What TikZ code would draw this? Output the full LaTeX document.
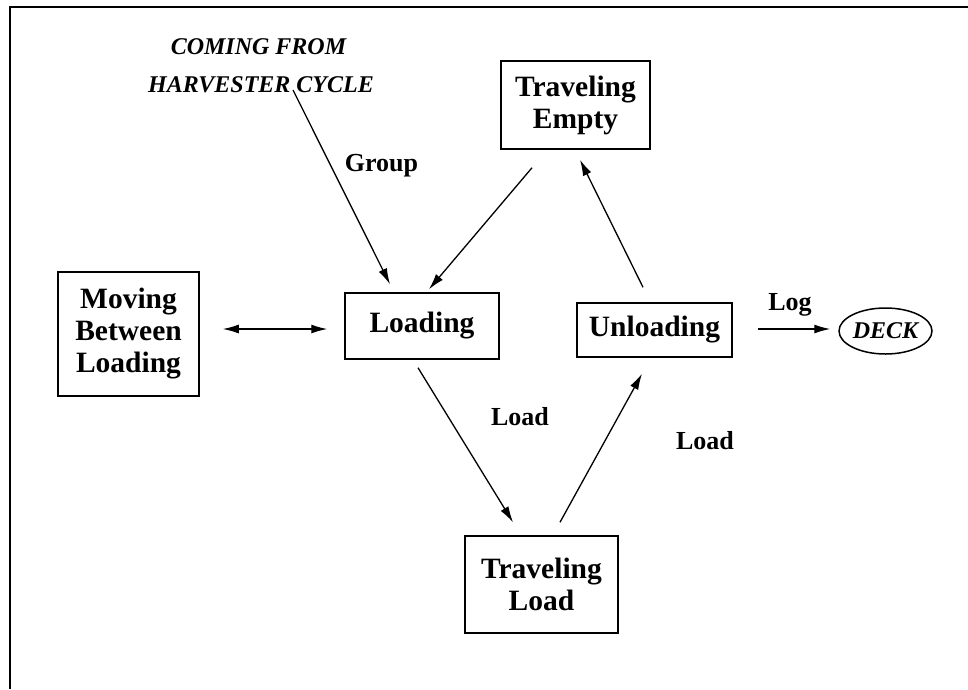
\documentclass[tikz,border=0pt]{standalone}
\usepackage{fontspec}
\setmainfont{Liberation Serif}
\usetikzlibrary{arrows.meta,shapes.geometric}

\tikzset{
  state/.style={draw, line width=1.5pt, inner sep=0pt, align=center,
    font=\bfseries\fontsize{29.5}{32}\selectfont},
  lbl/.style={anchor=base, inner sep=0pt, font=\bfseries\fontsize{26}{30}\selectfont},
  src/.style={anchor=base, inner sep=0pt, font=\bfseries\itshape\fontsize{24}{28}\selectfont},
  arr/.style={line width=1.3pt, -{Latex[length=16pt,width=9pt]}},
}

\begin{document}
\begin{tikzpicture}[x=1pt, y=-1pt]
\useasboundingbox (0,0) rectangle (968,689);

% --- Marco ---
\draw[line width=1.8pt] (10,689) -- (10,7) -- (968,7);

% --- Origen del ciclo ---
\node[src] (coming) at (258.5,54) {COMING FROM};
\node[src] (harv) at (261,92) {HARVESTER CYCLE};

% --- Estados ---
\node[state, minimum width=141pt, minimum height=124pt] (mov) at (128.5,334) {Moving\\Between\\Loading};
\node[state, minimum width=154pt, minimum height=66pt] (loading) at (422,326) {Loading};
\node[state, minimum width=149pt, minimum height=88pt] (tempty) at (575.5,105) {Traveling\\Empty};
\node[state, minimum width=155pt, minimum height=54pt] (unload) at (654.5,330) {Unloading};
\node[state, minimum width=153pt, minimum height=97pt] (tload) at (541.5,584.5) {Traveling\\Load};
\node[draw, ellipse, line width=1.5pt, inner sep=0pt, minimum width=93pt, minimum height=46pt,
      font=\bfseries\itshape\fontsize{24}{28}\selectfont] (deck) at (885.5,331) {DECK};

% --- Etiquetas ---
\node[lbl] (group) at (381.5,171) {Group};
\node[lbl] (load1) at (520,425) {Load};
\node[lbl] (load2) at (705,449) {Load};
\node[lbl] (log) at (790,310) {Log};

% --- Transiciones ---
\draw[arr] ([xshift=32pt, yshift=2pt]harv.base) -- ([xshift=-32pt, yshift=8pt]loading.north);
\draw[arr] ([xshift=-43.5pt, yshift=-18pt]tempty.south) -- ([xshift=7pt, yshift=3pt]loading.north);
\draw[arr] ([xshift=-11.5pt, yshift=15pt]unload.north) -- ([xshift=4.5pt, yshift=-10pt]tempty.south);
\draw[arr, {Latex[length=16pt,width=9pt]}-{Latex[length=16pt,width=9pt]}]
      ([xshift=23pt, yshift=5pt]mov.east) -- ([xshift=-17pt, yshift=-3pt]loading.west);
\draw[arr] ([xshift=-4pt, yshift=-8pt]loading.south) -- ([xshift=-28.5pt, yshift=13pt]tload.north);
\draw[arr] ([xshift=18.5pt, yshift=13pt]tload.north) -- ([xshift=-12.5pt, yshift=-16pt]unload.south);
\draw[arr] ([xshift=25pt, yshift=1pt]unload.east) -- ([xshift=-8pt, yshift=2pt]deck.west);

\end{tikzpicture}
\end{document}
